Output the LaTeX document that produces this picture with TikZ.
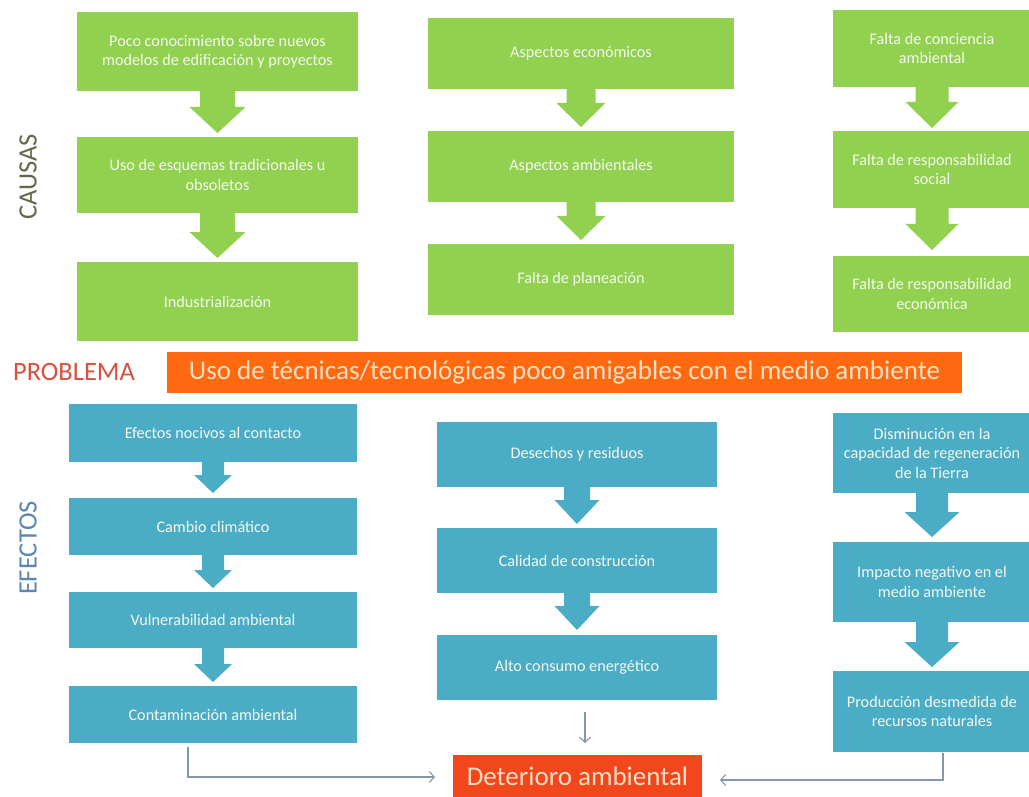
\documentclass[tikz,border=0pt]{standalone}
\usepackage{fontspec}
\setmainfont{Carlito}
\usetikzlibrary{arrows.meta,calc}
\definecolor{cgreen}{HTML}{92D050}
\definecolor{cblue}{HTML}{4BACC6}
\definecolor{corange}{HTML}{FF6A10}
\definecolor{cred}{HTML}{F2471C}
\definecolor{boxtext}{HTML}{F4F9EF}
\definecolor{peach}{HTML}{FDDFC4}
\definecolor{probred}{HTML}{D9503C}
\definecolor{causcol}{HTML}{5E6B48}
\definecolor{efecol}{HTML}{5A86B0}
\definecolor{linecol}{HTML}{8497AD}
% block arrow: from, to, shaft half width, head half width, head length, gap, colour
\newcommand\barr[7]{%
  \fill[#7] let \p1=(#1.south), \p2=(#2.north) in
    (\x1-#3pt,\y1) -- (\x1+#3pt,\y1) -- (\x1+#3pt,\y2+#6pt+#5pt) -- (\x1+#4pt,\y2+#6pt+#5pt)
    -- (\x1,\y2+#6pt) -- (\x1-#4pt,\y2+#6pt+#5pt) -- (\x1-#3pt,\y2+#6pt+#5pt) -- cycle;}
\begin{document}
\begin{tikzpicture}[x=1pt,y=-1pt,
  cell/.style={inner sep=2pt,outer sep=0pt,align=center,
    font=\fontsize{16.2}{19.5}\selectfont,text=boxtext},
  gbox/.style={cell,fill=cgreen},
  bbox/.style={cell,fill=cblue},
  conn/.style={draw=linecol,line width=1.1pt,-{Straight Barb[length=5pt,width=11pt]}},
  biglab/.style={font=\fontsize{26.5}{30}\selectfont,inner sep=0pt}
  ]
\fill[white] (0,0) rectangle (1029,797);
\useasboundingbox (0,0) rectangle (1029,797);

% ---------- CAUSAS ----------
\node[biglab,text=causcol,rotate=90] (causas) at (28,177) {CAUSAS};

\node[gbox,minimum width=281pt,minimum height=79pt] (g1) at (217.5,51.5) {Poco conocimiento sobre nuevos\\modelos de edificación y proyectos};
\node[gbox,minimum width=281pt,minimum height=76pt] (g2) at (217.5,175) {Uso de esquemas tradicionales u\\obsoletos};
\node[gbox,minimum width=281pt,minimum height=79pt] (g3) at (217.5,301.5) {Industrialización};

\node[gbox,minimum width=306pt,minimum height=71pt] (m1) at (581,53.5) {Aspectos económicos};
\node[gbox,minimum width=306pt,minimum height=71pt] (m2) at (581,166.5) {Aspectos ambientales};
\node[gbox,minimum width=306pt,minimum height=71pt] (m3) at (581,279.5) {Falta de planeación};

\node[gbox,minimum width=198pt,minimum height=77pt] (r1) at (932,48.5) {Falta de conciencia\\ambiental};
\node[gbox,minimum width=198pt,minimum height=77pt] (r2) at (932,169.5) {Falta de responsabilidad\\social};
\node[gbox,minimum width=198pt,minimum height=76pt] (r3) at (932,294) {Falta de responsabilidad\\económica};

\barr{g1}{g2}{17.5}{28}{26}{4}{cgreen}
\barr{g2}{g3}{17.5}{28}{26}{4}{cgreen}
\barr{m1}{m2}{14.5}{24.5}{24}{4}{cgreen}
\barr{m2}{m3}{14.5}{24.5}{24}{4}{cgreen}
\barr{r1}{r2}{16.5}{26.5}{26}{3}{cgreen}
\barr{r2}{r3}{16.5}{26.5}{26}{6}{cgreen}

% ---------- PROBLEMA ----------
\node[biglab,text=probred] (problema) at (74,372) {PROBLEMA};
\node[fill=corange,minimum width=795pt,minimum height=41pt,inner sep=0pt,outer sep=0pt,
  font=\fontsize{27}{30}\selectfont,text=peach] (prob) at (564.5,372.5)
  {Uso de técnicas/tecnológicas poco amigables con el medio ambiente};

% ---------- EFECTOS ----------
\node[biglab,text=efecol,rotate=90] (efectos) at (28,548) {EFECTOS};

\node[bbox,minimum width=288pt,minimum height=58pt] (b1) at (213,433) {Efectos nocivos al contacto};
\node[bbox,minimum width=288pt,minimum height=57pt] (b2) at (213,526.5) {Cambio climático};
\node[bbox,minimum width=288pt,minimum height=56pt] (b3) at (213,620) {Vulnerabilidad ambiental};
\node[bbox,minimum width=288pt,minimum height=57pt] (b4) at (213,714.5) {Contaminación ambiental};

\node[bbox,minimum width=280pt,minimum height=65pt] (b5) at (577,454.5) {Desechos y residuos};
\node[bbox,minimum width=280pt,minimum height=65pt] (b6) at (577,560.5) {Calidad de construcción};
\node[bbox,minimum width=280pt,minimum height=65pt] (b7) at (577,667.5) {Alto consumo energético};

\node[bbox,minimum width=198pt,minimum height=80pt] (b8) at (932,453) {Disminución en la\\capacidad de regeneración\\de la Tierra};
\node[bbox,minimum width=198pt,minimum height=80pt] (b9) at (932,582) {Impacto negativo en el\\medio ambiente};
\node[bbox,minimum width=198pt,minimum height=81pt] (b10) at (932,711.5) {Producción desmedida de\\recursos naturales};

\barr{b1}{b2}{11}{19}{18}{5}{cblue}
\barr{b2}{b3}{11}{19}{18}{4}{cblue}
\barr{b3}{b4}{11}{19}{18}{4}{cblue}
\barr{b5}{b6}{13}{22.5}{24}{4}{cblue}
\barr{b6}{b7}{13}{22.5}{24}{5}{cblue}
\barr{b8}{b9}{16}{27.5}{25}{5}{cblue}
\barr{b9}{b10}{16}{27.5}{25}{4}{cblue}

% ---------- Deterioro ----------
\node[fill=cred,minimum width=249pt,minimum height=42pt,inner sep=0pt,outer sep=0pt,
  font=\fontsize{27}{30}\selectfont,text=peach] (det) at (577.5,776) {Deterioro ambiental};

\draw[conn] ([xshift=-25pt,yshift=-4pt]b4.south) |- ([xshift=-18pt,yshift=-1pt]det.west);
\draw[conn] ([xshift=8pt,yshift=-12pt]b7.south) -- ([xshift=7.5pt,yshift=12pt]det.north);
\draw[conn] ([xshift=11pt,yshift=-1pt]b10.south) |- ([xshift=18pt,yshift=-4pt]det.east);
\end{tikzpicture}
\end{document}
